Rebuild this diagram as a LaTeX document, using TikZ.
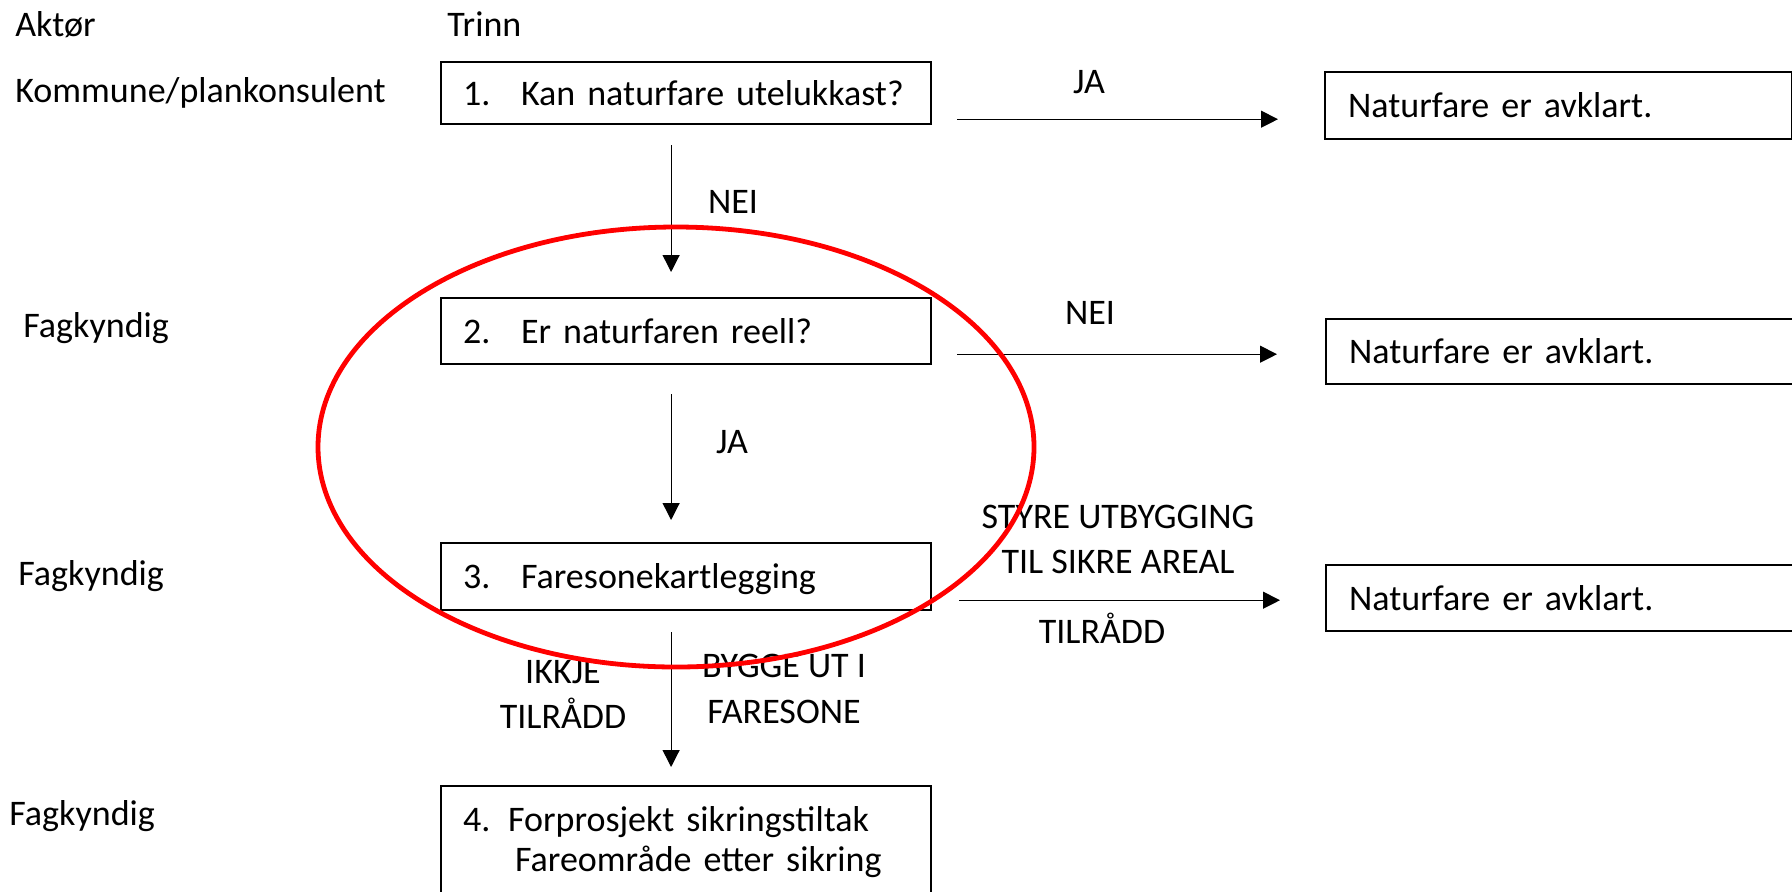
\documentclass[tikz,border=0pt]{standalone}
\usepackage{fontspec}
\setmainfont{Carlito}
\usetikzlibrary{arrows.meta}

\begin{document}
\begin{tikzpicture}[x=.5pt,y=-.5pt,font=\fontsize{18pt}{20pt}\selectfont,
		box/.style={draw,line width=1.1pt,anchor=north west,inner xsep=11pt,inner ysep=0pt,text width=223pt,align=left,text height=12pt,text depth=0pt},
		endbox/.style={draw,line width=1.1pt,anchor=north west,inner xsep=11.5pt,inner ysep=0pt,text width=213pt,align=left,text height=12pt,text depth=0pt},
		txt/.style={anchor=base west,inner sep=0pt},
		lbl/.style={anchor=base,inner sep=0pt},
		arr/.style={-{Triangle[length=8.5pt,width=8.5pt]},line width=.6pt}]
			\useasboundingbox (0,0) rectangle (1792,891);
			
			\node[txt] (aktor) at (15,36) {Aktør};
			\node[txt] (trinn) at (447,36) {Trinn};
			\node[txt] (kommune) at (15,102) {Kommune/plankonsulent};
			\node[txt] (fag2) at (23,337) {Fagkyndig};
			\node[txt] (fag3) at (18,585) {Fagkyndig};
			\node[txt] (fag4) at (9,825) {Fagkyndig};
			
			\node[box,minimum height=31pt] (box1) at (440,61) {\makebox[29pt][l]{1.}Kan naturfare utelukkast?};
			\node[box,minimum height=33pt] (box2) at (440,297) {\makebox[29pt][l]{2.}Er naturfaren reell?};
			\node[box,minimum height=33.5pt] (box3) at (440,542) {\makebox[29pt][l]{3.}Faresonekartlegging};
			\node[draw,line width=1.1pt,anchor=north west,inner xsep=11pt,inner ysep=10.5pt,text width=223pt,align=left,text height=12pt] (box4) at (440,785)
				{\makebox[22.5pt][l]{4.}Forprosjekt sikringstiltak\\\hspace*{26pt}Fareområde etter sikring};
			
			\node[endbox,minimum height=33.5pt,text width=210.5pt] (na1) at (1324,71) {Naturfare er avklart.};
			\node[endbox,minimum height=32.5pt] (na2) at (1325,318) {Naturfare er avklart.};
			\node[endbox,minimum height=33pt] (na3) at (1325,564) {Naturfare er avklart.};
			
			\coordinate (a1) at ([xshift=12.5pt,yshift=3pt]box1.south east);
			\coordinate (a2) at ([xshift=12.5pt,yshift=5.5pt]box2.south east);
			\coordinate (a3) at ([xshift=13.5pt,yshift=5.5pt]box3.south east);
			\draw[arr,shorten >=23pt] (a1) -- (a1 -| na1.west);
			\draw[arr,shorten >=24pt] (a2) -- (a2 -| na2.west);
			\draw[arr,shorten >=22.5pt] (a3) -- (a3 -| na3.west);
			\node[lbl] (ja1) at (1089,93) {JA};
			\node[lbl] (nei2) at (1090,324) {NEI};
			\node[lbl] (styre) at (1118,528) {STYRE UTBYGGING};
			\node[lbl] (sikre) at (1118,573) {TIL SIKRE AREAL};
			\node[lbl] (tilradd3) at (1102,643) {TILRÅDD};
			
			\draw[arr] ([xshift=-7.5pt,yshift=-10pt]box1.south) -- ([xshift=-7.5pt,yshift=12.5pt]box2.north);
			\draw[arr] ([xshift=-7.5pt,yshift=-14.5pt]box2.south) -- ([xshift=-7.5pt,yshift=11pt]box3.north);
			\draw[arr] ([xshift=-7.5pt,yshift=-10.5pt]box3.south) -- ([xshift=-7.5pt,yshift=9pt]box4.north);
			\node[lbl] (nei1) at (733,213) {NEI};
			\node[lbl] (ja2) at (732,453) {JA};
			\node[lbl] (ikkje) at (563,683) {IKKJE};
			\node[lbl] (tilradd4) at (563,728) {TILRÅDD};
			\node[lbl] (bygge) at (784,677) {BYGGE UT I};
			\node[lbl] (faresone) at (784,723) {FARESONE};
			
			\draw[red,line width=2.4pt] (676,447) ellipse [x radius=179pt,y radius=110pt];
			\end{tikzpicture}
\end{document}
